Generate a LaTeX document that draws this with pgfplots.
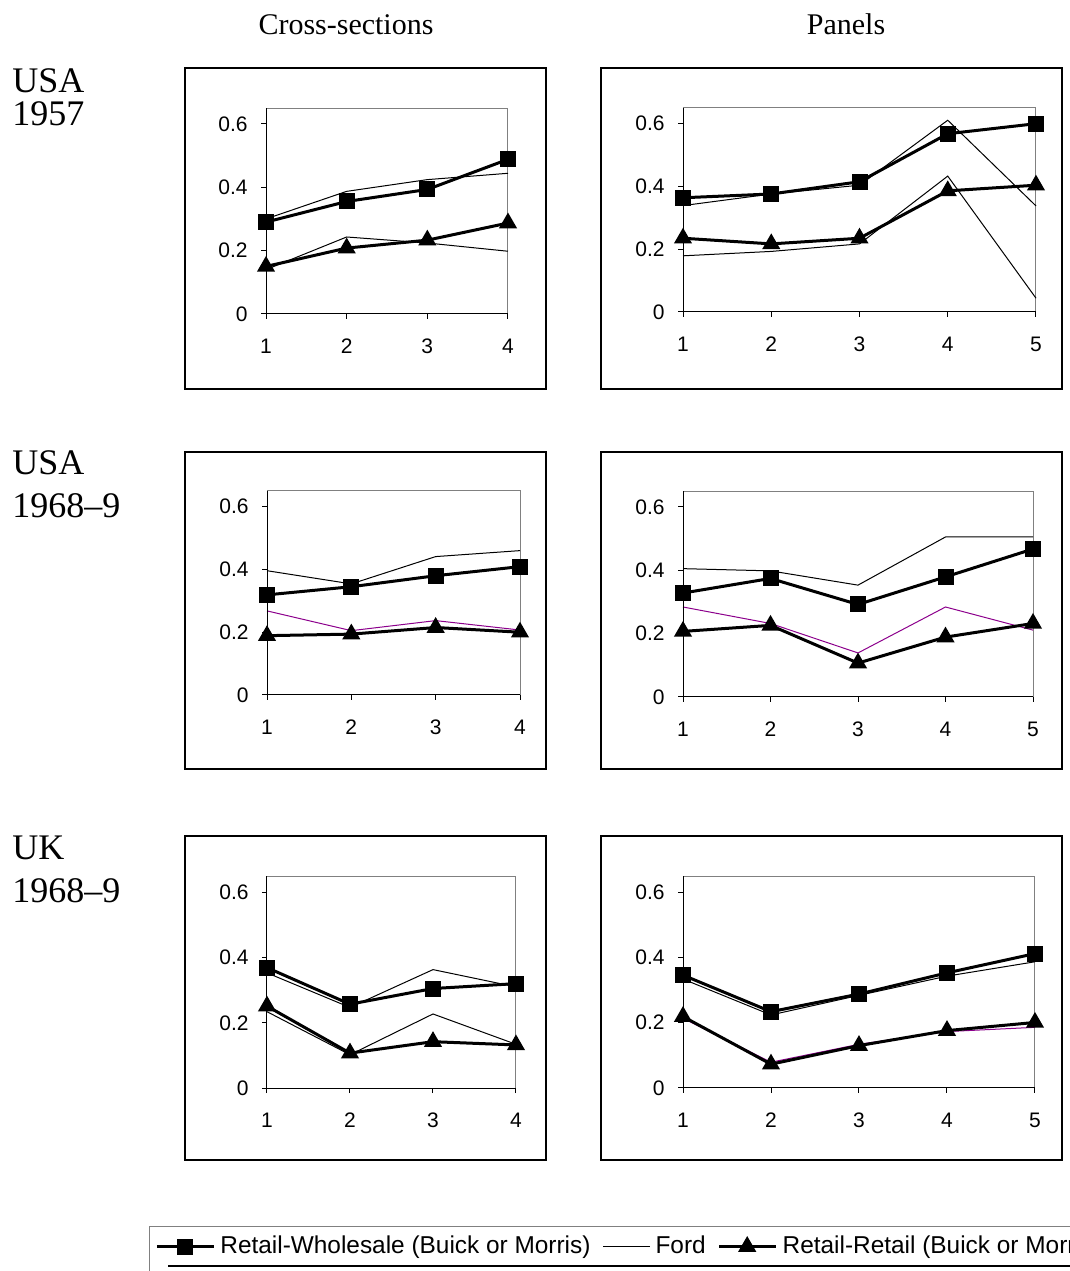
\documentclass[border=0pt]{standalone}
\usepackage{fontspec}
\setmainfont{Liberation Serif}
\setsansfont{Liberation Sans}
\usepackage{pgfplots}
\pgfplotsset{compat=1.18}
\definecolor{fordpurple}{RGB}{140,0,140}
\definecolor{framegray}{RGB}{128,128,128}
\pgfplotsset{
  panel/.style={
    scale only axis,
    anchor=south west,
    ymin=0, ymax=0.65,
    ytick={0,0.2,0.4,0.6},
    yticklabels={0,0.2,0.4,0.6},
    tick align=outside,
    tick pos=left,
    major tick length=2.5pt,
    tick style={black, line width=0.5pt},
    axis line style={framegray, line width=0.5pt},
    tick label style={font=\sffamily\fontsize{10.5}{12}\selectfont},
    yticklabel style={inner sep=0pt, xshift=-6.5pt},
    xticklabel style={inner sep=0pt, text height=7.5pt, text depth=0pt, yshift=-9.5pt},
    clip=false,
  },
  four/.style={xmin=1, xmax=4, xtick={1,2,3,4}, xticklabels={1,2,3,4}},
  five/.style={xmin=1, xmax=5, xtick={1,2,3,4,5}, xticklabels={1,2,3,4,5}},
  rw/.style={black, line width=1.5pt, mark=square*, mark size=3.25pt, mark options={solid}},
  rr/.style={black, line width=1.5pt, mark=triangle*, mark size=3.75pt, mark options={solid}},
  ford/.style={black, line width=0.5pt, mark=none},
  fordp/.style={fordpurple, line width=0.5pt, mark=none},
  markimg/.style={legend image code/.code={\draw[mark repeat=2, mark phase=2, ##1] plot coordinates {(0pt,0pt) (14pt,0pt) (28.5pt,0pt)};}},
  lineimg/.style={legend image code/.code={\draw[##1] (0pt,0pt) -- (23.5pt,0pt);}},
}
\newcommand{\blackaxes}{\draw[black, line width=0.5pt] (rel axis cs:0,1) -- (rel axis cs:0,0) -- (rel axis cs:1,0);}
\begin{document}
\begin{tikzpicture}
\path[use as bounding box] (0,0) rectangle (535pt,635.5pt);
\clip (0,0) rectangle (535pt,635.5pt);

% titles
\node[anchor=base, inner sep=0pt, font=\fontsize{15}{17}\selectfont] at (173pt,618pt) {Cross-sections};
\node[anchor=base, inner sep=0pt, font=\fontsize{15}{17}\selectfont] at (423pt,618pt) {Panels};
\node[anchor=base west, inner sep=0pt, font=\fontsize{18}{20}\selectfont] at (6pt,589pt) {USA};
\node[anchor=base west, inner sep=0pt, font=\fontsize{18}{20}\selectfont] at (6pt,572.5pt) {1957};
\node[anchor=base west, inner sep=0pt, font=\fontsize{18}{20}\selectfont] at (6pt,398pt) {USA};
\node[anchor=base west, inner sep=0pt, font=\fontsize{18}{20}\selectfont] at (6pt,376.5pt) {1968--9};
\node[anchor=base west, inner sep=0pt, font=\fontsize{18}{20}\selectfont] at (6pt,205.5pt) {UK};
\node[anchor=base west, inner sep=0pt, font=\fontsize{18}{20}\selectfont] at (6pt,184pt) {1968--9};

% outer frames
\draw[line width=1pt] (92.5pt,441pt) rectangle (273pt,601.5pt);
\draw[line width=1pt] (300.5pt,441pt) rectangle (531pt,601.5pt);
\draw[line width=1pt] (92.5pt,251pt) rectangle (273pt,409.5pt);
\draw[line width=1pt] (300.5pt,251pt) rectangle (531pt,409.5pt);
\draw[line width=1pt] (92.5pt,55.5pt) rectangle (273pt,217.5pt);
\draw[line width=1pt] (300.5pt,55.5pt) rectangle (531pt,217.5pt);

% P1 USA 1957 cross-sections
\begin{axis}[panel, four, at={(133pt,478.5pt)}, width=121pt, height=103pt]
\addplot[ford] coordinates {(1,0.300) (2,0.387) (3,0.424) (4,0.444)};
\addplot[ford] coordinates {(1,0.140) (2,0.243) (3,0.224) (4,0.198)};
\addplot[rw] coordinates {(1,0.290) (2,0.355) (3,0.393) (4,0.488)};
\addplot[rr] coordinates {(1,0.150) (2,0.208) (3,0.233) (4,0.287)};
\blackaxes
\end{axis}

% P2 USA 1957 panels
\begin{axis}[panel, five, at={(341.5pt,479.5pt)}, width=176.5pt, height=102pt]
\addplot[ford] coordinates {(1,0.339) (2,0.376) (3,0.404) (4,0.611) (5,0.338)};
\addplot[ford] coordinates {(1,0.179) (2,0.193) (3,0.217) (4,0.433) (5,0.044)};
\addplot[rw] coordinates {(1,0.364) (2,0.376) (3,0.415) (4,0.568) (5,0.600)};
\addplot[rr] coordinates {(1,0.235) (2,0.217) (3,0.235) (4,0.386) (5,0.404)};
\blackaxes
\end{axis}

% P3 USA 1968-9 cross-sections
\begin{axis}[panel, four, at={(133.5pt,288pt)}, width=126.5pt, height=102pt]
\addplot[ford] coordinates {(1,0.396) (2,0.354) (3,0.441) (4,0.460)};
\addplot[fordp] coordinates {(1,0.268) (2,0.205) (3,0.237) (4,0.207)};
\addplot[rw] coordinates {(1,0.319) (2,0.345) (3,0.380) (4,0.409)};
\addplot[rr] coordinates {(1,0.189) (2,0.194) (3,0.215) (4,0.200)};
\blackaxes
\end{axis}

% P4 USA 1968-9 panels
\begin{axis}[panel, five, at={(341.5pt,287pt)}, width=175pt, height=103pt]
\addplot[ford] coordinates {(1,0.405) (2,0.398) (3,0.353) (4,0.505) (5,0.505)};
\addplot[fordp] coordinates {(1,0.284) (2,0.232) (3,0.139) (4,0.284) (5,0.211)};
\addplot[rw] coordinates {(1,0.328) (2,0.374) (3,0.292) (4,0.379) (5,0.467)};
\addplot[rr] coordinates {(1,0.207) (2,0.226) (3,0.107) (4,0.189) (5,0.232)};
\blackaxes
\end{axis}

% P5 UK 1968-9 cross-sections (carries the legend)
\begin{axis}[panel, four, at={(133.5pt,91.5pt)}, width=124.5pt, height=106pt,
  legend columns=-1,
  legend cell align=left,
  legend style={draw=none, fill=none, at={(-0.4739,-0.6557)}, anchor=north west,
    inner xsep=3pt, inner ysep=4.4pt,
    font=\sffamily\fontsize{12.2}{14}\selectfont,
    nodes={inner sep=0pt},
    /tikz/every odd column/.style={column sep=2.5pt},
    /tikz/every even column/.style={column sep=6pt}}]
\addplot[ford, forget plot] coordinates {(1,0.353) (2,0.247) (3,0.363) (4,0.310)};
\addplot[ford, forget plot] coordinates {(1,0.234) (2,0.102) (3,0.227) (4,0.134)};
\addplot[rw, forget plot] coordinates {(1,0.369) (2,0.257) (3,0.305) (4,0.320)};
\addplot[rr, forget plot] coordinates {(1,0.251) (2,0.107) (3,0.142) (4,0.132)};
\addlegendimage{rw, markimg}
\addlegendentry{Retail-Wholesale (Buick or Morris)}
\addlegendimage{ford, lineimg}
\addlegendentry{Ford}
\addlegendimage{rr, markimg}
\addlegendentry{Retail-Retail (Buick or Morris)}
\blackaxes
\end{axis}

% P6 UK 1968-9 panels
\begin{axis}[panel, five, at={(341.5pt,91.5pt)}, width=176pt, height=106pt]
\addplot[ford] coordinates {(1,0.334) (2,0.224) (3,0.284) (4,0.343) (5,0.387)};
\addplot[fordp] coordinates {(1,0.214) (2,0.079) (3,0.134) (4,0.173) (5,0.186)};
\addplot[rw] coordinates {(1,0.346) (2,0.234) (3,0.288) (4,0.353) (5,0.412)};
\addplot[rr] coordinates {(1,0.219) (2,0.073) (3,0.130) (4,0.176) (5,0.201)};
\blackaxes
\end{axis}

% legend frame remnants
\draw[framegray, line width=0.5pt] (74.5pt,-5pt) -- (74.5pt,22pt) -- (545pt,22pt);
\draw[black, line width=1pt] (84pt,2.5pt) -- (545pt,2.5pt);
\end{tikzpicture}
\end{document}
